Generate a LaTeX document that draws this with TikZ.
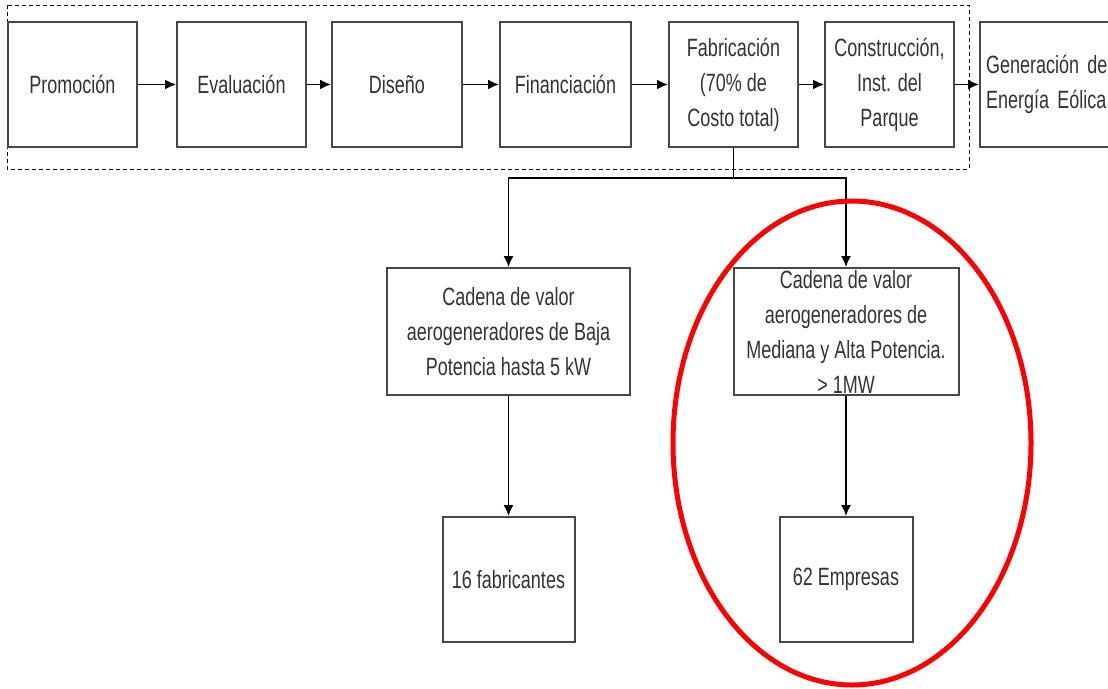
\documentclass[tikz,border=0pt]{standalone}
\usepackage{fontspec}
\setmainfont{Liberation Sans}[FakeStretch=0.72]
\usetikzlibrary{arrows.meta}

\tikzset{
  caja/.style={draw=black!72, line width=2pt, text=black!80, align=center,
    font=\fontsize{25}{35}\selectfont, minimum height=125pt, inner sep=0pt},
  flecha/.style={line width=1.8pt, -{Latex[length=11pt,width=10pt]}},
}

\begin{document}
\begin{tikzpicture}[x=1pt,y=-1pt,line cap=butt,line join=miter]
\useasboundingbox (0,0) rectangle (1108,688);
\clip (0,0) rectangle (1108,688);
%\draw[help lines] (0,0) grid[step=50] (1108,688);
\draw [line width=1pt,dash pattern=on 4pt off 3pt] (7,5) rectangle (969,169);
\node[caja,minimum width=129pt] (prom) at (72.5,84.5) {Promoción};
\node[caja,minimum width=129pt] (eval) at (241.5,84.5) {Evaluación};
\node[caja,minimum width=130pt] (dis) at (397,84.5) {Diseño};
\node[caja,minimum width=131pt] (fin) at (565.5,84.5) {Financiación};
\node[caja,minimum width=129pt] (fab) at (733.5,84.5) {Fabricación\\(70\% de\\Costo total)};
\node[caja,minimum width=129pt] (cons) at (889.5,84.5) {Construcción,\\Inst. del\\Parque};
\node[caja,anchor=west,minimum width=150pt,text width=150pt,inner xsep=6pt,align=left] (gen) at (979,84.5) {Generación de\\Energía Eólica};
\draw[flecha] (prom.east) -- (eval.west);
\draw[flecha] (eval.east) -- (dis.west);
\draw[flecha] (dis.east) -- (fin.west);
\draw[flecha] (fin.east) -- (fab.west);
\draw[flecha] (fab.east) -- (cons.west);
\draw[flecha] (cons.east) -- (gen.west);

\node[caja,minimum width=243pt,minimum height=127pt] (baja) at (508.5,331.5) {Cadena de valor\\aerogeneradores de Baja\\Potencia hasta 5 kW};
\node[caja,minimum width=225pt,minimum height=127pt] (media) at (846,331.5) {Cadena de valor\\aerogeneradores de\\Mediana y Alta Potencia.\\> 1MW};
\node[caja,minimum width=132pt] (fab16) at (508.5,579.5) {16 fabricantes};
\node[caja,minimum width=133pt] (emp) at (846,579.5) {62 Empresas};

\coordinate (rama) at (733.5,178);
\draw[line width=1.5pt] (fab.south) -- (rama);
\draw[flecha,line width=1.5pt] (rama) -| (baja.north);
\draw[flecha,line width=1.5pt] (rama) -| (media.north);
\draw[flecha,line width=1.5pt] (baja.south) -- (fab16.north);
\draw[flecha,line width=1.5pt] (media.south) -- (emp.north);

\draw[red,line width=5pt] (852,443) ellipse [x radius=179,y radius=242];
\end{tikzpicture}
\end{document}
